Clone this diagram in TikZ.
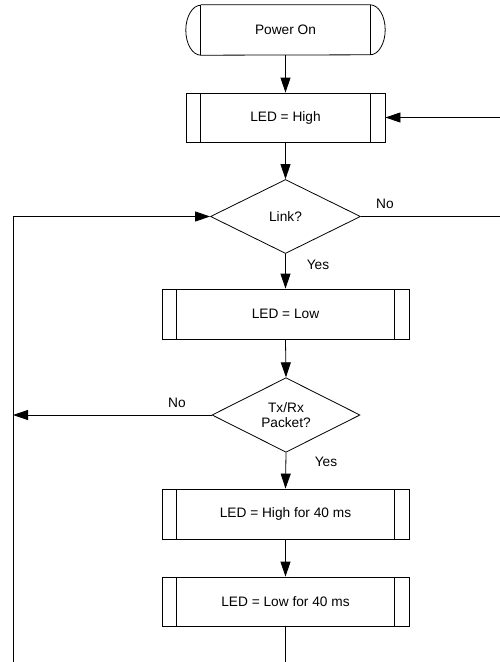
\documentclass[tikz,border=0pt]{standalone}
\usepackage{fontspec}
\setmainfont{Liberation Sans}
\usetikzlibrary{shapes.geometric,arrows.meta}
\begin{document}
\begin{tikzpicture}[x=1pt,y=-1pt,
  every node/.style={font=\fontsize{13.7}{16}\selectfont, text=black},
  line/.style={draw=black, line width=0.8pt},
  arr/.style={line, -{Triangle[length=15pt,width=10pt]}},
  proc/.style={draw=black, line width=0.8pt, rectangle, inner sep=0pt,
    path picture={
      \draw[black, line width=0.8pt]
        ([xshift=14.5pt]path picture bounding box.north west) -- ([xshift=14.5pt]path picture bounding box.south west)
        ([xshift=-14.5pt]path picture bounding box.north east) -- ([xshift=-14.5pt]path picture bounding box.south east);}},
  decision/.style={draw=black, line width=0.8pt, diamond, inner sep=0pt, align=center},
  lbl/.style={inner sep=0pt}
]
\useasboundingbox (0,0) rectangle (500,662);

% terminator
\node[minimum width=169pt, minimum height=50pt, inner sep=0pt] (pon) at (285.5,30) {Power On};
\draw[line] (pon.north west) -- (pon.north east)
  arc[start angle=90, end angle=-90, x radius=15pt, y radius=25pt]
  -- (pon.south west)
  arc[start angle=270, end angle=90, x radius=15pt, y radius=25pt];
\draw[line] (pon.north west) -- (pon.south west);
\draw[line] (pon.north east) -- (pon.south east);

\node[proc, minimum width=199pt, minimum height=49pt] (ledh) at (285.5,117.5) {LED = High};
\node[decision, minimum width=150pt, minimum height=74pt] (link) at (285.5,216.5) {Link?};
\node[proc, minimum width=247pt, minimum height=50pt] (ledl) at (285.5,314) {LED = Low};
\node[decision, minimum width=148pt, minimum height=74pt] (tx) at (286,415) {Tx/Rx\\[-1pt]Packet?};
\node[proc, minimum width=247pt, minimum height=50pt] (ledh40) at (285.5,514) {LED = High for 40 ms};
\node[proc, minimum width=247pt, minimum height=49pt] (ledl40) at (285.5,601.5) {LED = Low for 40 ms};

\coordinate (rtop) at (500,117.5);
\coordinate (rlink) at (500,216.5);
\coordinate (lleft) at (13,216.5);
\coordinate (ltx) at (13,415);
\coordinate (lbot) at (13,662);
\coordinate (cbot) at (285.5,662);

\draw[arr] (pon.south) -- (ledh.north);
\draw[arr] (ledh.south) -- (link.north);
\draw[arr] (link.south) -- (ledl.north);
\draw[arr] (ledl.south) -- (tx.north);
\draw[arr] (tx.south) -- (ledh40.north);
\draw[arr] (ledh40.south) -- (ledl40.north);
\draw[line] (ledl40.south) -- (cbot);

\draw[line] (link.east) -- (rlink);
\draw[arr] (rtop) -- (ledh.east);
\draw[arr] (tx.west) -- (ltx);
\draw[line] (lbot) -- (lleft);
\draw[arr] (lleft) -- (link.west);

\node[lbl] (no1) at (385,204) {No};
\node[lbl] (yes1) at (318,265) {Yes};
\node[lbl] (no2) at (177,403) {No};
\node[lbl] (yes2) at (326,462) {Yes};
\end{tikzpicture}
\end{document}
